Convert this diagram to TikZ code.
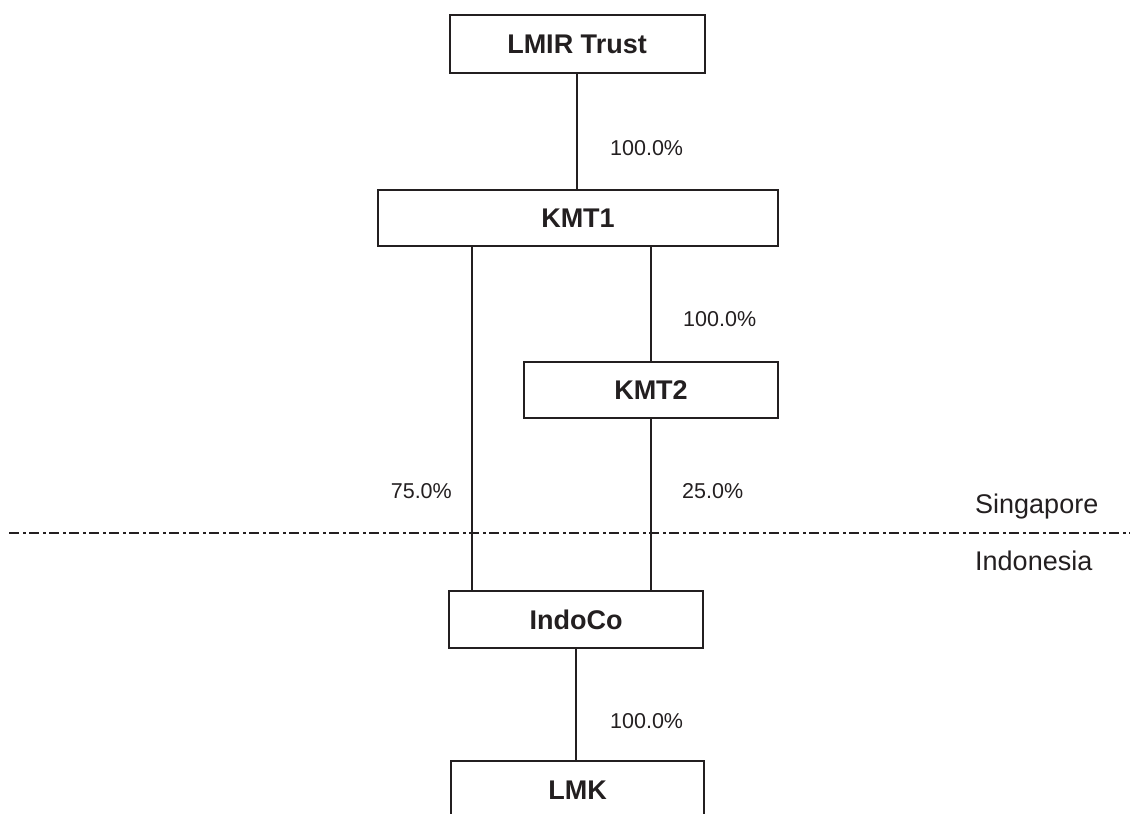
\documentclass[tikz,border=0pt]{standalone}
\usepackage{fontspec}
\setmainfont{Liberation Sans}
\definecolor{ink}{RGB}{35,31,32}
\tikzset{
  entity/.style={draw=ink, line width=2pt, fill=white, inner sep=0pt, text=ink,
    font=\fontsize{27}{30}\selectfont\bfseries},
  pct/.style={inner sep=0pt, text=ink, font=\fontsize{21.5}{24}\selectfont},
  region/.style={inner sep=0pt, text=ink, font=\fontsize{27}{30}\selectfont},
  link/.style={draw=ink, line width=2pt},
  border/.style={draw=ink, line width=2pt, dash pattern=on 10pt off 4pt on 3pt off 3pt}
}
\begin{document}
\begin{tikzpicture}[x=1pt,y=-1pt]
\useasboundingbox (0,0) rectangle (1130,814);
\clip (0,0) rectangle (1130,814);
% boxes
\node[entity, minimum width=255pt, minimum height=58pt] (lmir) at (577,44) {LMIR Trust};
\node[entity, minimum width=400pt, minimum height=56pt] (kmt1) at (578,218) {KMT1};
\node[entity, minimum width=254pt, minimum height=56pt] (kmt2) at (651,390) {KMT2};
\node[entity, minimum width=254pt, minimum height=57pt] (indoco) at (576,619.5) {IndoCo};
\node[entity, minimum width=253pt, minimum height=58pt] (lmk) at (577.5,790) {LMK};
% dashed border line
\coordinate (dl) at (9,533);
\coordinate (dr) at (1130,533);
\draw[border] (dl) -- (dr);
% connectors
\draw[link] (lmir.south) -- (lmir.south |- kmt1.north);
\draw[link] ([xshift=-106pt]kmt1.south) -- ([xshift=-106pt]kmt1.south |- indoco.north);
\draw[link] (kmt1.south -| kmt2.north) -- (kmt2.north);
\draw[link] (kmt2.south) -- (kmt2.south |- indoco.north);
\draw[link] (indoco.south) -- (indoco.south |- lmk.north);
% labels
\node[pct, anchor=base west] (p1) at (610,155) {100.0\%};
\node[pct, anchor=base west] (p2) at (683,326) {100.0\%};
\node[pct, anchor=base east] (p3) at (452,498) {75.0\%};
\node[pct, anchor=base west] (p4) at (682,498) {25.0\%};
\node[pct, anchor=base west] (p5) at (610,728) {100.0\%};
\node[region, anchor=base west] (sg) at (975,513) {Singapore};
\node[region, anchor=base west] (id) at (975,570) {Indonesia};
\end{tikzpicture}
\end{document}
